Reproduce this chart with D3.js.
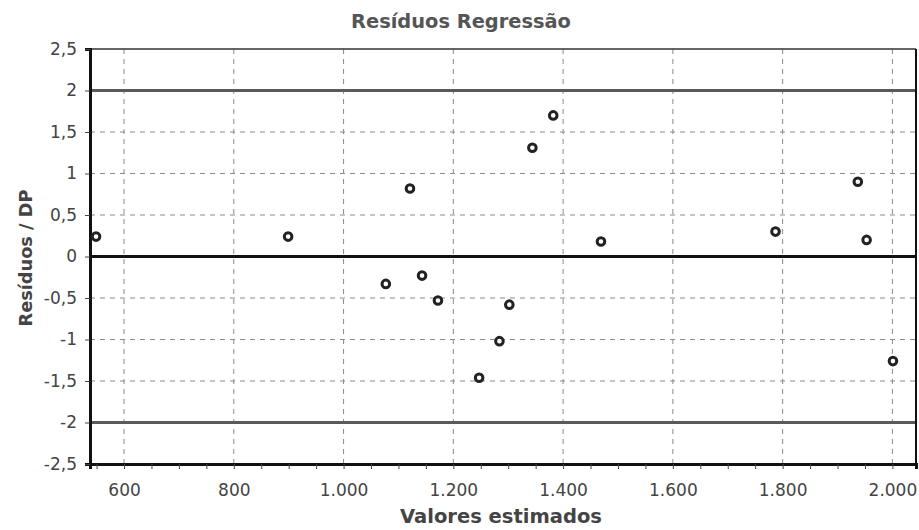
<!DOCTYPE html>
<html><head><meta charset="utf-8">
<script src="https://cdn.jsdelivr.net/npm/d3@7"></script>
<style>body{margin:0;background:#fff;}svg{display:block;}</style>
</head><body>
<script>
const estimated = [549, 899, 1077, 1121, 1143, 1172, 1247, 1284, 1302, 1344, 1382, 1469, 1787, 1937, 1953, 2001];
const residuals = [0.24, 0.24, -0.33, 0.82, -0.23, -0.53, -1.46, -1.02, -0.58, 1.31, 1.70, 0.18, 0.30, 0.90, 0.20, -1.26];
const xTicks = [600, 800, 1000, 1200, 1400, 1600, 1800, 2000];
const yTicks = [-2.5, -2, -1.5, -1, -0.5, 0, 0.5, 1, 1.5, 2, 2.5];
const limits = [2, -2];
const title = "Resíduos Regressão";
const xLabel = "Valores estimados";
const yLabel = "Resíduos / DP";

const W = 919, H = 530;
const L = 90, R = 916, T = 49, B = 464;
const FONT = "'DejaVu Sans', Verdana, sans-serif";
const svg = d3.select("body").append("svg").attr("width", W).attr("height", H);
const x = d3.scaleLinear().domain([538, 2043]).range([L, R]);
const y = d3.scaleLinear().domain([-2.5, 2.5]).range([B, T]);
const fmtX = v => d3.format(",")(v).replace(/,/g, ".");
const fmtY = v => String(v).replace(".", ",");

// grid
svg.append("g").selectAll("line").data(xTicks).join("line")
  .attr("x1", d => x(d)).attr("x2", d => x(d)).attr("y1", T).attr("y2", B)
  .attr("stroke", "#8a8a8a").attr("stroke-width", 1).attr("stroke-dasharray", "5,5");
svg.append("g").selectAll("line").data(yTicks.filter(v => Math.abs(v) !== 2 && Math.abs(v) !== 2.5 && v !== 0)).join("line")
  .attr("x1", L).attr("x2", R).attr("y1", d => y(d)).attr("y2", d => y(d))
  .attr("stroke", "#8a8a8a").attr("stroke-width", 1).attr("stroke-dasharray", "5,5");

// limit lines
svg.append("g").selectAll("line").data(limits).join("line")
  .attr("x1", L).attr("x2", R).attr("y1", d => y(d)).attr("y2", d => y(d))
  .attr("stroke", "#5a5a5a").attr("stroke-width", 3);
svg.append("line").attr("x1", L).attr("x2", R).attr("y1", y(0)).attr("y2", y(0))
  .attr("stroke", "#111").attr("stroke-width", 3);

// frame
svg.append("line").attr("x1", L).attr("x2", R).attr("y1", T).attr("y2", T).attr("stroke", "#333").attr("stroke-width", 1.5);
svg.append("line").attr("x1", R).attr("x2", R).attr("y1", T).attr("y2", B).attr("stroke", "#111").attr("stroke-width", 2);

// axes
const xAxis = svg.append("g").attr("transform", `translate(0,${B})`)
  .call(d3.axisBottom(x).tickValues(d3.range(550, 2043, 50)).tickSize(5).tickFormat(d => xTicks.includes(d) ? fmtX(d) : ""));
xAxis.select(".domain").attr("stroke", "#111").attr("stroke-width", 3);
xAxis.selectAll(".tick line").attr("stroke", "#444").attr("stroke-width", 1);
xAxis.selectAll("text").attr("font-family", FONT).attr("font-size", 17).attr("fill", "#444").attr("y", 20).attr("dy", "0.71em");

const yAxis = svg.append("g").attr("transform", `translate(${L},0)`)
  .call(d3.axisLeft(y).tickValues(yTicks).tickSize(5).tickFormat(fmtY));
yAxis.select(".domain").attr("stroke", "#111").attr("stroke-width", 3);
yAxis.selectAll(".tick line").attr("stroke", "#444");
yAxis.selectAll("text").attr("font-family", FONT).attr("font-size", 17).attr("fill", "#444").attr("x", -13);

// points
svg.append("g").selectAll("circle").data(estimated).join("circle")
  .attr("cx", d => x(d)).attr("cy", (d, i) => y(residuals[i])).attr("r", 3.8)
  .attr("fill", "#fff").attr("stroke", "#222").attr("stroke-width", 3);

// titles (font size fitted to the width measured on the reference)
function fit(sel, target) {
  let fs = +sel.attr("font-size");
  const w = sel.node().getComputedTextLength();
  if (w > 0) sel.attr("font-size", (fs * target / w).toFixed(2));
}
const t1 = svg.append("text").attr("x", 461).attr("y", 28).attr("text-anchor", "middle")
  .attr("font-family", FONT).attr("font-weight", "bold").attr("font-size", 16).attr("fill", "#555").text(title);
fit(t1, 220);
const t2 = svg.append("text").attr("x", 501).attr("y", 523).attr("text-anchor", "middle")
  .attr("font-family", FONT).attr("font-weight", "bold").attr("font-size", 18).attr("fill", "#444").text(xLabel);
fit(t2, 202);
const t3 = svg.append("text").attr("transform", "translate(32,258) rotate(-90)").attr("text-anchor", "middle")
  .attr("font-family", FONT).attr("font-weight", "bold").attr("font-size", 17).attr("fill", "#444").text(yLabel);
fit(t3, 137);
</script>
</body></html>
